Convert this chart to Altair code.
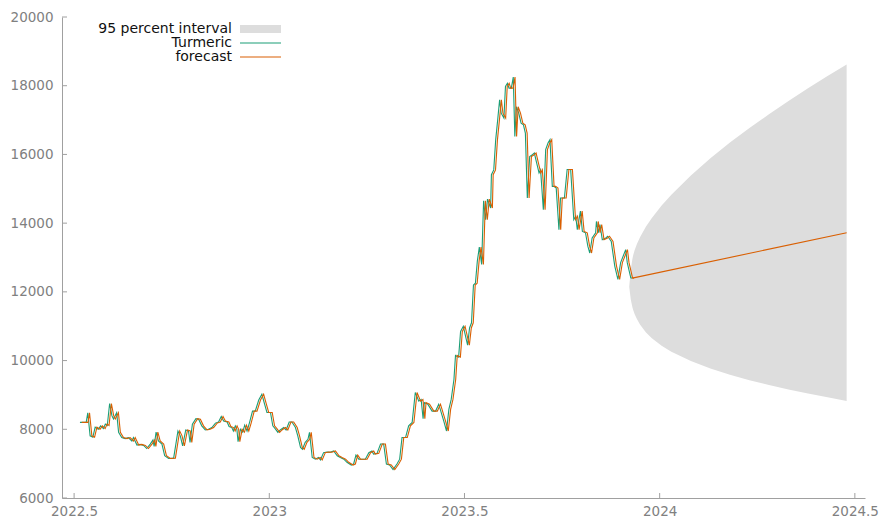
import altair as alt
import pandas as pd

# ---------------- data ----------------
years = [
    2022.515, 2022.531, 2022.535, 2022.541, 2022.548, 2022.554, 2022.562, 2022.568, 2022.575, 2022.580,
    2022.585, 2022.591, 2022.597, 2022.601, 2022.609, 2022.614, 2022.622, 2022.631, 2022.639, 2022.648,
    2022.652, 2022.661, 2022.669, 2022.678, 2022.686, 2022.695, 2022.702, 2022.705, 2022.710, 2022.716,
    2022.725, 2022.732, 2022.742, 2022.755, 2022.766, 2022.772, 2022.778, 2022.786, 2022.793, 2022.797,
    2022.803, 2022.812, 2022.819, 2022.827, 2022.836, 2022.844, 2022.853, 2022.862, 2022.870, 2022.877,
    2022.883, 2022.892, 2022.897, 2022.904, 2022.908, 2022.913, 2022.917, 2022.920, 2022.926, 2022.932,
    2022.937, 2022.943, 2022.949, 2022.957, 2022.964, 2022.973, 2022.981, 2022.988, 2022.994, 2023.003,
    2023.009, 2023.015, 2023.022, 2023.028, 2023.037, 2023.043, 2023.051, 2023.058, 2023.067, 2023.073,
    2023.080, 2023.085, 2023.092, 2023.099, 2023.103, 2023.110, 2023.118, 2023.126, 2023.131, 2023.139,
    2023.148, 2023.156, 2023.165, 2023.174, 2023.182, 2023.191, 2023.199, 2023.210, 2023.216, 2023.222,
    2023.229, 2023.239, 2023.246, 2023.255, 2023.263, 2023.267, 2023.276, 2023.285, 2023.293, 2023.300,
    2023.308, 2023.317, 2023.327, 2023.334, 2023.340, 2023.349, 2023.357, 2023.366, 2023.374, 2023.383,
    2023.389, 2023.394, 2023.397, 2023.406, 2023.417, 2023.426, 2023.434, 2023.438, 2023.447, 2023.454,
    2023.460, 2023.466, 2023.473, 2023.477, 2023.485, 2023.490, 2023.497, 2023.503, 2023.508, 2023.513,
    2023.518, 2023.523, 2023.528, 2023.533, 2023.538, 2023.544, 2023.549, 2023.554, 2023.559, 2023.567,
    2023.569, 2023.575, 2023.580, 2023.585, 2023.590, 2023.594, 2023.601, 2023.605, 2023.610, 2023.614,
    2023.620, 2023.625, 2023.629, 2023.633, 2023.639, 2023.645, 2023.651, 2023.656, 2023.661, 2023.667,
    2023.674, 2023.679, 2023.685, 2023.691, 2023.695, 2023.702, 2023.708, 2023.714, 2023.719, 2023.725,
    2023.729, 2023.735, 2023.742, 2023.746, 2023.756, 2023.763, 2023.772, 2023.780, 2023.785, 2023.789,
    2023.797, 2023.802, 2023.810, 2023.816, 2023.821, 2023.827, 2023.836, 2023.838, 2023.843, 2023.847,
    2023.853, 2023.862, 2023.867, 2023.876, 2023.885, 2023.893, 2023.900, 2023.913, 2023.917, 2023.926,
    2023.930,
]
turmeric = [
    8200, 8200, 8480, 7810, 7770, 8060, 8000, 8100, 8020, 8150,
    8110, 8750, 8390, 8300, 8480, 7910, 7760, 7730, 7760, 7660,
    7760, 7540, 7560, 7530, 7440, 7570, 7690, 7500, 7920, 7660,
    7570, 7230, 7150, 7160, 7950, 7810, 7520, 7980, 7950, 7620,
    8150, 8310, 8290, 8100, 7980, 8000, 8050, 8180, 8210, 8370,
    8240, 8210, 8080, 8050, 7950, 8100, 8000, 7640, 8000, 7920,
    8120, 7950, 8180, 8530, 8530, 8850, 9020, 8730, 8490, 8490,
    8100, 8020, 7910, 7980, 8050, 7980, 8210, 8210, 8050, 7810,
    7470, 7420, 7620, 7710, 7910, 7180, 7130, 7180, 7110, 7320,
    7340, 7330, 7370, 7230, 7180, 7130, 7040, 6960, 6990, 7250,
    7130, 7130, 7130, 7320, 7370, 7280, 7300, 7570, 7570, 6990,
    6960, 6830, 6990, 7130, 7760, 7760, 8100, 8200, 9070, 8820,
    8870, 8310, 8780, 8730, 8530, 8530, 8730, 8580, 8240, 7950,
    8580, 8870, 9450, 10150, 10100, 10850, 11000, 10700, 10450, 10950,
    11100, 12200, 12250, 12900, 13300, 12800, 14650, 14100, 14700, 14440,
    15410, 15550, 16430, 17000, 17590, 17200, 17060, 17980, 18070, 17930,
    17930, 18250, 16520, 17390, 17200, 16910, 16860, 16620, 14730, 15940,
    15990, 16040, 15750, 15460, 15550, 14390, 16140, 16330, 16430, 15070,
    15070, 15020, 13810, 14730, 14730, 15560, 15560, 14100, 14200, 13810,
    14350, 13760, 13720, 13330, 13130, 13570, 13720, 14050, 13720, 13960,
    13520, 13570, 13620, 13470, 12750, 12360, 12850, 13230, 12850, 12410,
    12400,
]
# one-step-ahead fitted values trail the observed series by about one day
FIT_LAG = 0.0045

fc_years = [2023.930, 2024.479]
fc_values = [12400, 13720]

band_years = [2023.922, 2023.926, 2023.930, 2023.932, 2023.936, 2023.942, 2023.950, 2023.965,
              2023.980, 2024.005, 2024.030, 2024.080, 2024.130, 2024.180, 2024.230, 2024.280,
              2024.330, 2024.380, 2024.430, 2024.479]
band_lower = [12150, 11780, 11560, 11480, 11350, 11200, 11040, 10820,
              10650, 10430, 10260, 9990, 9770, 9590, 9430, 9290,
              9160, 9040, 8930, 8820]
band_upper = [12150, 12650, 12950, 13060, 13220, 13400, 13600, 13900,
              14150, 14510, 14830, 15390, 15890, 16345, 16770, 17170,
              17556, 17926, 18282, 18620]

x_ticks = [2022.5, 2023.0, 2023.5, 2024.0, 2024.5]
y_ticks = [6000, 8000, 10000, 12000, 14000, 16000, 18000, 20000]

# ---------------- styling ----------------
W, H = 803, 481
FONT = "DejaVu Sans"
FS = 13.5
LEG_FS = 14
AXIS_COL = "#a0a0a0"
LABEL_COL = "#808080"
GREEN = "#1b9e77"
ORANGE = "#d95f02"
GREY = "#dddddd"

xs = alt.Scale(domain=[2022.469, 2024.526], nice=False, zero=False)
ys = alt.Scale(domain=[6000, 20000], nice=False, zero=False)

AX_X = alt.Axis(values=x_ticks, format="~g", ticks=False, grid=False, title=None,
                labelPadding=6, labelFlush=False, domainColor=AXIS_COL,
                labelColor=LABEL_COL, labelFont=FONT, labelFontSize=FS)
AX_Y = alt.Axis(values=y_ticks, format="d", ticks=False, grid=False, title=None,
                labelPadding=9, domainColor=AXIS_COL,
                labelColor=LABEL_COL, labelFont=FONT, labelFontSize=FS)


def X(field):
    return alt.X(field, type="quantitative", scale=xs, axis=AX_X)


def Y(field):
    return alt.Y(field, type="quantitative", scale=ys, axis=AX_Y)


hist = pd.DataFrame({"t": years, "v": turmeric})
fit = pd.DataFrame({"t": [y + FIT_LAG for y in years], "v": turmeric})
fc = pd.DataFrame({"t": fc_years, "v": fc_values})
band = pd.DataFrame({"t": band_years, "v": band_lower, "hi": band_upper})
xt = pd.DataFrame({"t": x_ticks})
yt = pd.DataFrame({"v": y_ticks})
one = pd.DataFrame({"a": [0]})

band_layer = alt.Chart(band).mark_area(color=GREY, opacity=1).encode(
    x=X("t"), y=Y("v"), y2="hi:Q")
hist_layer = alt.Chart(hist).mark_line(color=GREEN, strokeWidth=1.1).encode(x=X("t"), y=Y("v"))
fit_layer = alt.Chart(fit).mark_line(color=ORANGE, strokeWidth=1.1).encode(x=X("t"), y=Y("v"))
fc_layer = alt.Chart(fc).mark_line(color=ORANGE, strokeWidth=1.1).encode(x=X("t"), y=Y("v"))

# inward tick marks (gnuplot style)
xtick_layer = alt.Chart(xt).mark_rule(color=AXIS_COL, strokeWidth=1).encode(
    x=X("t"), y=alt.value(H), y2=alt.value(H - 5))
ytick_layer = alt.Chart(yt).mark_rule(color=AXIS_COL, strokeWidth=1).encode(
    y=Y("v"), x=alt.value(0), x2=alt.value(5))


def leg_text(label, ypos):
    return alt.Chart(one).mark_text(align="right", baseline="middle", font=FONT,
                                    fontSize=LEG_FS, color="#111111").encode(
        x=alt.value(170), y=alt.value(ypos), text=alt.value(label))


leg_rect = alt.Chart(one).mark_rect(color=GREY).encode(
    x=alt.value(178), x2=alt.value(219), y=alt.value(8), y2=alt.value(16))
leg_green = alt.Chart(one).mark_rule(color=GREEN, strokeWidth=1.1).encode(
    x=alt.value(178), x2=alt.value(219), y=alt.value(26))
leg_orange = alt.Chart(one).mark_rule(color=ORANGE, strokeWidth=1.1).encode(
    x=alt.value(178), x2=alt.value(219), y=alt.value(40))

chart = alt.layer(
    band_layer, hist_layer, fit_layer, fc_layer, xtick_layer, ytick_layer,
    leg_text("95 percent interval", 12), leg_text("Turmeric", 26), leg_text("forecast", 40),
    leg_rect, leg_green, leg_orange,
).properties(
    width=W, height=H,
    autosize=alt.AutoSizeParams(type="none"),
    padding={"left": 62, "top": 17, "right": 17, "bottom": 20},
    background="white",
).configure_view(strokeWidth=0)

chart.save("out.html", embed_options={"renderer": "svg", "actions": False})
